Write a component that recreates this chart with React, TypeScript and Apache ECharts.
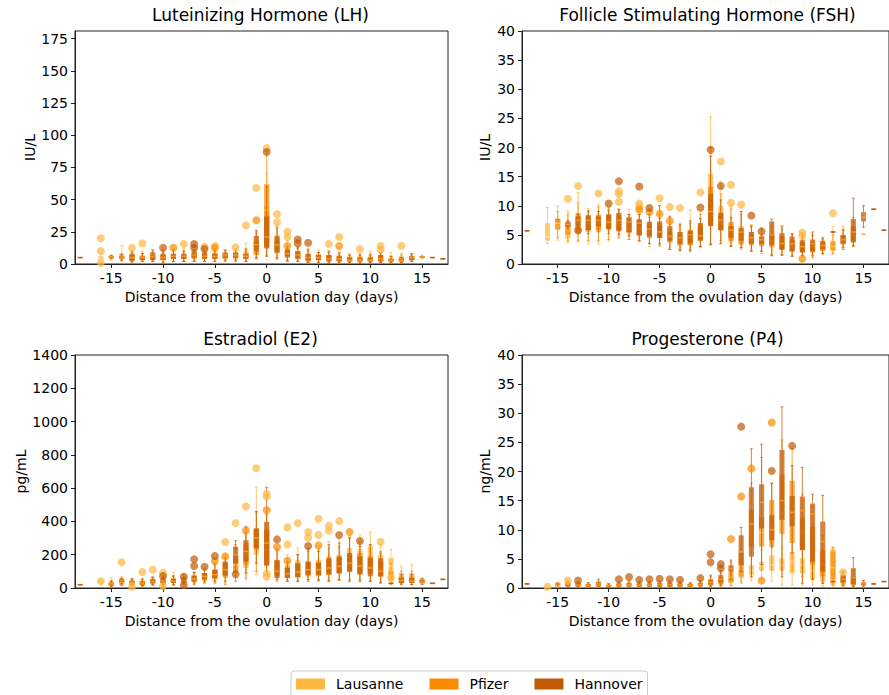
import React, { useEffect, useRef } from "react";
import * as echarts from "echarts";

// ---------- tick labels ----------
const DAY_TICKS = [-15, -10, -5, 0, 5, 10, 15];
const LH_TICKS = [0, 25, 50, 75, 100, 125, 150, 175];
const FSH_TICKS = [0, 5, 10, 15, 20, 25, 30, 35, 40];
const E2_TICKS = [0, 200, 400, 600, 800, 1000, 1200, 1400];
const P4_TICKS = [0, 5, 10, 15, 20, 25, 30, 35, 40];

const SITES = ["Lausanne", "Pfizer", "Hannover"];
const SITE_COLORS = ["#FDB840", "#FB8C00", "#C05A06"];
const MEDIAN_COLORS = ["#FFE2A8", "#FDC46A", "#F29A30"];

// ---------- data: [day, low whisker, Q1, median, Q3, high whisker] ----------
// LH (IU/L)
const lhLausanne = [
  [-16, 1, 3, 4, 6, 8], [-15, 3, 4, 5, 6, 7], [-14, 2, 4, 6, 8, 14], [-13, 1, 3, 5, 7, 10],
  [-12, 2, 4, 6, 7, 10], [-11, 2, 4, 5, 7, 10], [-10, 1, 3, 5, 7, 10], [-9, 2, 4, 6, 8, 11],
  [-8, 2, 4, 6, 8, 12], [-7, 2, 4, 6, 9, 13], [-6, 2, 4, 6, 8, 11], [-5, 2, 4, 6, 9, 12],
  [-4, 2, 4, 6, 8, 11], [-3, 3, 5, 7, 9, 12], [-2, 2, 5, 7, 10, 16], [-1, 4, 8, 12, 18, 25],
  [0, 6, 14, 30, 45, 70], [1, 4, 8, 12, 18, 28], [2, 3, 6, 9, 12, 18], [3, 3, 5, 8, 10, 14],
  [4, 1, 3, 5, 8, 12], [5, 2, 4, 6, 8, 11], [6, 1, 3, 5, 7, 10], [7, 1, 3, 5, 7, 10],
  [8, 1, 2, 4, 6, 8], [9, 1, 2, 4, 6, 8], [10, 1, 2, 4, 6, 10], [11, 1, 3, 5, 7, 9],
  [12, 1, 2, 3, 5, 9], [13, 1, 2, 4, 6, 8], [14, 2, 3, 5, 6, 8], [15, 4, 5, 5.5, 6, 7],
];
const lhPfizer = [
  [-15, 4, 5, 5.5, 6, 6.5], [-14, 3, 4, 5, 6, 8], [-13, 2, 3, 5, 7, 9], [-12, 2, 3, 5, 6, 8],
  [-11, 2, 3, 5, 7, 9], [-10, 1, 3, 5, 7, 9], [-9, 2, 4, 6, 7, 10], [-8, 2, 4, 6, 7, 10],
  [-7, 2, 4, 6, 8, 11], [-6, 2, 4, 6, 8, 10], [-5, 2, 4, 6, 8, 11], [-4, 2, 4, 6, 8, 10],
  [-3, 2, 4, 6, 8, 10], [-2, 2, 4, 6, 8, 12], [-1, 4, 7, 11, 17, 24], [0, 7, 13, 42, 62, 88],
  [1, 5, 9, 14, 20, 28], [2, 3, 6, 8, 11, 12], [3, 2, 4, 6, 9, 12], [4, 1, 3, 5, 7, 10],
  [5, 1, 3, 5, 7, 9], [6, 1, 2, 4, 6, 9], [7, 1, 2, 4, 6, 9], [8, 1, 2, 3, 5, 7],
  [9, 1, 2, 3, 5, 7], [10, 1, 2, 3, 5, 8], [11, 1, 2, 4, 6, 8], [12, 1, 2, 3, 4, 6],
  [13, 1, 2, 3, 5, 7], [14, 2, 3, 4, 6, 7],
];
const lhHannover = [
  [-18, 5, 5, 5, 5, 5], [-15, 4.5, 5, 5.5, 6, 6.5], [-14, 3, 4, 5, 6, 7], [-13, 0, 2, 5, 8, 10],
  [-12, 2, 3, 5, 6, 8], [-11, 2, 3, 6, 9, 11], [-10, 1, 3, 5, 8, 11], [-9, 2, 4, 6, 8, 11],
  [-8, 2, 4, 6, 8, 10], [-7, 2, 5, 7, 10, 11], [-6, 2, 4, 6, 9, 10], [-5, 2, 4, 6, 8, 10],
  [-4, 3, 5, 7, 9, 10.8], [-3, 3, 5, 7, 9, 11], [-2, 2, 4, 6, 8, 11], [-1, 5, 10, 15, 22, 26],
  [0, 6, 12, 21, 37, 60], [1, 4, 9, 15, 22, 30], [2, 2, 5, 8, 11, 14], [3, 2, 4, 7, 10, 13],
  [4, 1, 2, 5, 8, 11], [5, 1, 3, 5, 7, 9], [6, 0.5, 2, 4, 7, 10], [7, 1, 2, 4, 6, 8],
  [8, 1, 2, 3, 5, 7], [9, 0.5, 2, 3, 5, 7], [10, 1, 2, 3, 5, 7], [11, 1, 2, 4, 7, 9],
  [12, 1, 2, 3, 4, 6], [13, 1, 2, 3, 4, 5], [14, 2, 3, 5, 6, 8], [15, 5, 5, 5.5, 6, 6],
  [16, 5, 5, 5, 5, 5], [17, 4, 4, 4, 4, 4],
];
const lhLausanneOut = [
  [-16, 20], [-16, 10], [-16, 1], [-13, 12.5], [-12, 16], [-8, 15.5], [-6, 13.4], [-5, 14],
  [-3, 12.9], [-2, 30], [-1, 59], [0, 90], [1, 38.7], [1, 32.5], [2, 25], [2, 21],
  [6, 15.5], [7, 21], [9, 11.6], [11, 14], [11, 11.3], [13, 14.2],
];
const lhPfizerOut = [[-9, 12.6], [-5, 12.5], [-1, 34], [2, 14], [7, 14]];
const lhHannoverOut = [[-10, 12.6], [-7, 15.5], [-7, 12.6], [-6, 11.6], [0, 87], [3, 19], [3, 16], [4, 16.5]];

// FSH (IU/L)
const fshLausanne = [
  [-16, 3.5, 4, 4.7, 7, 9.7], [-15, 4.1, 5.8, 6.5, 7.5, 10], [-14, 3.7, 4.4, 5.8, 7, 9.1],
  [-13, 3.8, 5.2, 6.5, 8, 12.3], [-12, 3.4, 5.5, 6.5, 8, 9.5], [-11, 3.4, 5.5, 6.8, 8, 10.2],
  [-10, 3.9, 5.8, 7, 8.5, 9.8], [-9, 4.5, 6, 7.2, 8.5, 9.4], [-8, 4.2, 5.5, 6.5, 8, 9.4],
  [-7, 3.8, 5, 6.3, 7.5, 9], [-6, 3, 4.5, 5.8, 7, 8.5], [-5, 3, 4.5, 5.5, 7, 10],
  [-4, 2.8, 3.8, 4.8, 6, 8], [-3, 2.3, 3.2, 4.2, 5.5, 7], [-2, 2.3, 3.2, 4.3, 5.8, 9.3],
  [-1, 2.8, 4.2, 5.5, 7, 9], [0, 3.3, 6.5, 11.8, 15.5, 25.3], [1, 3.5, 5.8, 7.2, 10, 14.2],
  [2, 3, 3.8, 5, 7, 9.5], [3, 2.5, 3.2, 4.8, 6.5, 9], [4, 2.2, 3.2, 4, 5.5, 6.8],
  [5, 1.8, 3, 3.8, 4.8, 6.2], [6, 1.5, 2.8, 3.8, 5, 7], [7, 1.5, 2.5, 3.2, 4.5, 6.5],
  [8, 1.3, 2.2, 3, 4, 5.2], [9, 1.3, 2, 2.8, 3.8, 4.5], [10, 1, 2, 2.8, 3.8, 5],
  [11, 1.6, 2.2, 2.8, 3.5, 4.2], [12, 1.7, 2.3, 3, 4, 6.4], [13, 2.5, 3.3, 4, 5, 6.5],
  [14, 3, 3.8, 4.8, 6, 7.5], [15, 5.1, 5.1, 5.1, 5.1, 5.1],
];
const fshPfizer = [
  [-15, 4.5, 6, 7, 7.8, 9], [-14, 4, 5, 6, 7, 8.5], [-13, 4, 5.3, 7, 8.8, 10.5],
  [-12, 4, 5.8, 7, 8.2, 9.2], [-11, 4, 5.8, 7, 8.5, 9.8], [-10, 4.2, 6, 7, 8.5, 9.6],
  [-9, 4.5, 5.8, 7, 8.2, 9.3], [-8, 4.2, 5.3, 6, 7, 8.5], [-7, 4, 4.8, 6, 7.5, 8.5],
  [-6, 3.5, 4.5, 5.5, 6.8, 8], [-5, 3.2, 4.5, 5.5, 6.5, 7.8], [-4, 2.5, 3.7, 4.5, 5.5, 6.8],
  [-3, 2.5, 3.2, 4, 5, 6.5], [-2, 2.5, 3.2, 4.5, 5.5, 7], [-1, 3, 4, 5, 6.5, 8.5],
  [0, 3.5, 6.7, 9.5, 13.3, 20], [1, 4, 5.8, 7, 8.5, 12], [2, 3.2, 4, 5.5, 7.2, 10],
  [3, 2.8, 3.5, 4.5, 5.8, 8.5], [4, 2.3, 3.3, 4, 5, 6.5], [5, 2.2, 3.2, 4, 4.8, 6],
  [6, 1.6, 3, 4, 5.2, 6.5], [7, 1.6, 2.6, 3.5, 4.8, 6], [8, 1.5, 2.3, 3.2, 4.2, 5],
  [9, 1.5, 2, 2.8, 3.8, 5], [10, 1.2, 2, 3, 3.8, 5], [11, 1.8, 2.3, 3, 3.8, 4.3],
  [12, 1.8, 2.3, 3, 3.8, 5], [13, 2.5, 3.5, 4, 4.8, 6], [14, 3, 4, 5, 6.5, 8],
];
const fshHannover = [
  [-18, 5.7, 5.7, 5.7, 5.7, 5.7], [-15, 7.4, 7.4, 7.5, 7.6, 7.6], [-14, 6, 6.4, 6.8, 7.3, 7.5],
  [-13, 6, 6.5, 7.5, 8.2, 8.5], [-12, 5.2, 5.8, 7.5, 8.4, 9], [-11, 5.5, 6.5, 7.5, 8.2, 9],
  [-10, 5.2, 6, 7.2, 8.5, 9.2], [-9, 5, 5.6, 7.5, 8.8, 9.4], [-8, 4.8, 5.5, 7.2, 8, 8.5],
  [-7, 4, 5, 7, 7.7, 8.5], [-6, 3.5, 4.8, 6, 7.3, 8.5], [-5, 3.5, 4.5, 5.5, 7.3, 10],
  [-4, 2.5, 4, 4.8, 6.5, 8.2], [-3, 2.3, 3.5, 4.5, 5.5, 6.8], [-2, 2.2, 3.5, 5, 5.8, 7.4],
  [-1, 3, 4, 4.8, 7, 7.8], [0, 3.3, 6.5, 9, 12.1, 18.5], [1, 3.5, 5.8, 7.5, 8.8, 11],
  [2, 3, 4.5, 5.8, 6.5, 8], [3, 2.8, 4, 5.5, 6.2, 9], [4, 2.2, 3.5, 4.5, 5.5, 6.5],
  [5, 2.2, 3.5, 4.2, 4.6, 5], [6, 1.4, 3.3, 5, 7.3, 7.7], [7, 1.5, 2.4, 3.5, 5.3, 6.5],
  [8, 1.3, 2.1, 3.5, 4.7, 5.2], [9, 1.5, 2, 3, 4.1, 5.3], [10, 1.5, 2.2, 3.5, 4.2, 5.5],
  [11, 1.8, 2.5, 3.2, 4, 4.5], [12, 5.5, 5.5, 5.5, 5.5, 5.5], [13, 2.8, 3.5, 4.2, 5, 5.8],
  [14, 3.2, 3.7, 5.5, 7.7, 11.3], [15, 6.3, 7.3, 8, 8.9, 10], [16, 9.4, 9.4, 9.4, 9.4, 9.4],
  [17, 5.8, 5.8, 5.8, 5.8, 5.8],
];
const fshLausanneOut = [
  [-14, 11.2], [-13, 13.4], [-11, 12.1], [-9, 12.5], [-9, 12], [-9, 10.7], [-7, 10.4], [-7, 9.8],
  [-5, 11.3], [-4, 9.8], [-3, 9.6], [-1, 12.3], [1, 17.6], [2, 13.6], [2, 10.5], [3, 10.2],
  [9, 5.4], [9, 4.8], [12, 8.7],
];
const fshPfizerOut = [[-7, 9.3], [-6, 8.9], [-5, 8.6], [-4, 7.4], [9, 0.9]];
const fshHannoverOut = [[-13, 5.8], [-10, 10.4], [-9, 14.2], [-7, 13.3], [-6, 9.6], [-1, 9.7], [0, 19.6], [1, 13.4], [4, 8.3], [5, 5.6]];

// E2 (pg/mL)
const e2Lausanne = [
  [-16, 25, 30, 35, 45, 55], [-15, 10, 20, 28, 38, 64], [-14, 15, 22, 35, 55, 70],
  [-13, 20, 22, 30, 45, 60], [-12, 10, 20, 30, 45, 60], [-11, 15, 25, 35, 50, 65],
  [-10, 15, 20, 35, 55, 75], [-9, 15, 30, 40, 60, 94], [-8, 20, 35, 50, 65, 85],
  [-7, 20, 40, 55, 75, 95], [-6, 25, 45, 65, 90, 120], [-5, 25, 50, 75, 110, 140],
  [-4, 30, 60, 95, 150, 200], [-3, 40, 90, 120, 170, 240], [-2, 50, 120, 180, 250, 330],
  [-1, 80, 200, 280, 360, 605], [0, 100, 160, 250, 350, 480], [1, 60, 80, 120, 170, 240],
  [2, 50, 70, 100, 140, 200], [3, 40, 70, 110, 170, 240], [4, 40, 75, 110, 160, 230],
  [5, 40, 80, 120, 170, 250], [6, 45, 90, 130, 190, 280], [7, 50, 90, 140, 200, 290],
  [8, 50, 100, 160, 240, 310], [9, 40, 90, 150, 230, 320], [10, 40, 100, 170, 250, 336],
  [11, 40, 80, 130, 200, 260], [12, 70, 80, 130, 182, 232], [13, 20, 30, 50, 90, 128],
  [14, 20, 30, 50, 90, 142], [15, 25, 30, 40, 55, 60],
];
const e2Pfizer = [
  [-15, 10, 15, 25, 35, 45], [-14, 15, 20, 30, 45, 55], [-13, 10, 18, 28, 40, 50],
  [-12, 10, 18, 28, 40, 55], [-11, 15, 25, 35, 50, 65], [-10, 10, 22, 35, 50, 70],
  [-9, 20, 30, 40, 55, 75], [-8, 20, 30, 45, 60, 80], [-7, 20, 35, 50, 70, 90],
  [-6, 30, 45, 65, 90, 115], [-5, 30, 55, 80, 110, 150], [-4, 20, 70, 110, 150, 180],
  [-3, 40, 90, 140, 200, 260], [-2, 60, 140, 200, 270, 330], [-1, 100, 230, 300, 350, 450],
  [0, 80, 130, 230, 350, 440], [1, 40, 70, 110, 160, 230], [2, 40, 60, 90, 130, 150],
  [3, 40, 65, 100, 140, 200], [4, 40, 70, 110, 150, 220], [5, 45, 75, 110, 160, 230],
  [6, 45, 80, 120, 170, 240], [7, 45, 85, 130, 180, 250], [8, 50, 95, 140, 200, 300],
  [9, 50, 90, 140, 210, 280], [10, 40, 85, 130, 190, 260], [11, 30, 70, 110, 160, 220],
  [12, 20, 40, 60, 100, 150], [13, 20, 30, 45, 70, 100], [14, 20, 30, 45, 70, 100],
];
const e2Hannover = [
  [-18, 20, 20, 20, 20, 20], [-15, 10, 15, 25, 30, 40], [-14, 25, 35, 45, 55, 60],
  [-13, 20, 28, 35, 45, 55], [-12, 15, 20, 30, 40, 50], [-11, 20, 30, 40, 55, 65],
  [-10, 20, 30, 45, 60, 65], [-9, 20, 30, 40, 55, 70], [-8, 25, 35, 45, 55, 62],
  [-7, 30, 40, 55, 75, 95], [-6, 40, 55, 70, 90, 110], [-5, 40, 60, 80, 110, 140],
  [-4, 40, 75, 110, 160, 180], [-3, 100, 148, 200, 248, 284], [-2, 90, 158, 220, 288, 368],
  [-1, 150, 240, 300, 358, 460], [0, 80, 138, 270, 398, 605], [1, 50, 60, 100, 168, 230],
  [2, 40, 60, 85, 120, 160], [3, 40, 65, 95, 150, 200], [4, 50, 80, 110, 160, 240],
  [5, 50, 75, 110, 150, 220], [6, 40, 80, 120, 180, 260], [7, 50, 90, 130, 190, 270],
  [8, 40, 100, 150, 210, 300], [9, 40, 80, 130, 190, 250], [10, 40, 70, 120, 180, 260],
  [11, 30, 68, 100, 178, 210], [12, 28, 28, 28, 28, 28], [13, 25, 30, 45, 60, 80],
  [14, 20, 30, 40, 60, 80], [15, 20, 28, 35, 50, 58], [16, 28, 28, 28, 28, 28],
  [17, 52, 52, 52, 52, 52],
];
const e2LausanneOut = [
  [-16, 40], [-14, 154], [-13, 8], [-12, 96], [-11, 110], [-10, 92], [-10, 10], [-4, 276],
  [-3, 390], [-2, 490], [-1, 720], [0, 565], [0, 549], [0, 88], [0, 68], [2, 364], [2, 262],
  [3, 390], [4, 336], [4, 302], [5, 416], [5, 318], [6, 374], [6, 346], [7, 402], [11, 278],
  [12, 64],
];
const e2PfizerOut = [[-5, 162], [-4, 190], [-2, 346], [0, 467], [1, 248], [2, 164], [5, 256], [8, 336]];
const e2HannoverOut = [[-10, 72], [-8, 68], [-8, 18], [-7, 172], [-7, 132], [-6, 128], [-5, 192], [-3, 82], [1, 292], [4, 252], [7, 318], [9, 282]];

// P4 (ng/mL)
const p4Lausanne = [
  [-16, 0.1, 0.2, 0.2, 0.3, 0.4], [-15, 0.2, 0.3, 0.4, 0.6, 0.8], [-14, 0.2, 0.4, 0.6, 0.9, 1.2],
  [-13, 0.2, 0.4, 0.6, 0.8, 1.1], [-12, 0.2, 0.3, 0.5, 0.7, 0.9], [-11, 0.2, 0.3, 0.5, 0.7, 1],
  [-10, 0.1, 0.2, 0.4, 0.6, 0.8], [-9, 0.2, 0.3, 0.5, 0.7, 1], [-8, 0.2, 0.3, 0.5, 0.7, 1],
  [-7, 0.2, 0.3, 0.5, 0.7, 1], [-6, 0.2, 0.3, 0.5, 0.7, 1], [-5, 0.2, 0.3, 0.5, 0.7, 1],
  [-4, 0.2, 0.3, 0.5, 0.7, 1], [-3, 0.2, 0.3, 0.5, 0.7, 0.9], [-2, 0.2, 0.3, 0.4, 0.6, 0.8],
  [-1, 0.2, 0.3, 0.5, 0.8, 1.1], [0, 0.3, 0.5, 0.8, 1.2, 1.8], [1, 0.3, 0.6, 1, 1.5, 2.2],
  [2, 0.4, 0.8, 1.2, 2, 3], [3, 0.8, 1.7, 2.3, 3.1, 4], [4, 1.2, 2.2, 3, 3.9, 5.5],
  [5, 1.5, 3.1, 3.8, 4.5, 6.5], [6, 1.2, 3.1, 4, 5.6, 8], [7, 0.5, 3.1, 4, 5.1, 7],
  [8, 0.5, 2.5, 4.5, 6.2, 9], [9, 0.5, 2.5, 4, 5.1, 8], [10, 0.5, 1.5, 3, 4.5, 7],
  [11, 0.3, 1, 2.5, 4.8, 6.5], [12, 0.2, 0.5, 5.3, 6.8, 7], [13, 0.2, 0.5, 1.2, 1.8, 2.5],
  [14, 0.2, 0.4, 1, 2, 3], [15, 0.2, 0.4, 0.6, 0.8, 1.2],
];
const p4Pfizer = [
  [-15, 0.1, 0.2, 0.4, 0.6, 0.8], [-14, 0.1, 0.2, 0.4, 0.6, 0.9], [-13, 0.1, 0.2, 0.4, 0.6, 0.8],
  [-12, 0.1, 0.2, 0.3, 0.5, 0.7], [-11, 0.1, 0.2, 0.4, 0.6, 0.8], [-10, 0.1, 0.2, 0.3, 0.5, 0.7],
  [-9, 0.1, 0.2, 0.4, 0.6, 0.8], [-8, 0.1, 0.2, 0.4, 0.6, 0.8], [-7, 0.1, 0.2, 0.4, 0.6, 0.8],
  [-6, 0.1, 0.2, 0.4, 0.6, 0.8], [-5, 0.1, 0.2, 0.4, 0.6, 0.8], [-4, 0.1, 0.2, 0.4, 0.6, 0.8],
  [-3, 0.1, 0.2, 0.4, 0.6, 0.8], [-2, 0.1, 0.2, 0.4, 0.6, 0.8], [-1, 0.1, 0.3, 0.5, 0.7, 1],
  [0, 0.2, 0.4, 0.8, 1.3, 2], [1, 0.3, 0.6, 1, 1.7, 2.6], [2, 0.4, 1, 1.8, 2.8, 4.5],
  [3, 1, 2, 4, 6, 9], [4, 2, 7.1, 9.5, 13.4, 18], [5, 3, 7.1, 9.5, 12.2, 22.4],
  [6, 3, 7.1, 10.5, 15.1, 18], [7, 3, 9.3, 12.8, 19.4, 25.4], [8, 3, 7.7, 12.8, 18.4, 24],
  [9, 2, 6.5, 9.5, 12, 16], [10, 1.5, 4, 9.5, 10.5, 14], [11, 0.8, 2, 4, 6.5, 9],
  [12, 0.5, 1.5, 3.5, 6.3, 7], [13, 0.3, 0.8, 1.5, 2.2, 2.8], [14, 0.3, 0.6, 1.2, 2, 3],
];
const p4Hannover = [
  [-18, 0.7, 0.7, 0.7, 0.7, 0.7], [-15, 0.5, 0.6, 0.7, 0.8, 0.9], [-14, 0.2, 0.4, 0.7, 1, 1.3],
  [-13, 0.2, 0.4, 0.6, 0.9, 1.1], [-12, 0.2, 0.3, 0.5, 0.7, 0.9], [-11, 0.2, 0.4, 0.7, 1.1, 1.5],
  [-10, 0.1, 0.2, 0.4, 0.5, 0.7], [-9, 0.2, 0.3, 0.5, 0.8, 1.1], [-8, 0.2, 0.4, 0.6, 0.9, 1.2],
  [-7, 0.2, 0.3, 0.5, 0.8, 1.1], [-6, 0.2, 0.3, 0.5, 0.8, 1.1], [-5, 0.2, 0.3, 0.6, 0.9, 1.2],
  [-4, 0.2, 0.3, 0.6, 0.9, 1.2], [-3, 0.2, 0.3, 0.5, 0.8, 1.1], [-2, 0.2, 0.3, 0.5, 0.7, 0.9],
  [-1, 0.2, 0.4, 0.6, 0.9, 1.3], [0, 0.3, 0.6, 1, 1.5, 2.2], [1, 0.5, 0.9, 1.5, 2.2, 3],
  [2, 1.5, 2.8, 3.3, 3.9, 4.8], [3, 2.8, 3.9, 6.2, 9, 10.4], [4, 1.9, 5.4, 11, 17.3, 23.9],
  [5, 4, 10.2, 14.7, 17.8, 24.7], [6, 7, 8.2, 10, 12.5, 18], [7, 1.9, 11.7, 15, 23.7, 31.1],
  [8, 6, 10.6, 13, 15.8, 21], [9, 0.8, 6.5, 13.3, 15.7, 20.7], [10, 1.5, 4.5, 12.7, 14.5, 16.1],
  [11, 0.8, 2.8, 8, 11.4, 15.9], [12, 1.1, 1.1, 1.1, 1.1, 1.1], [13, 0.5, 1, 1.5, 2.2, 2.8],
  [14, 0.3, 0.6, 1.8, 3.4, 5.2], [15, 0.3, 0.5, 0.8, 1, 1.3], [16, 0.7, 0.7, 0.7, 0.7, 0.7],
  [17, 1.1, 1.1, 1.1, 1.1, 1.1],
];
const p4LausanneOut = [[-16, 0.2], [-14, 1.3], [13, 2.7]];
const p4PfizerOut = [[2, 8.4], [3, 15.7], [4, 20.5], [5, 1.3], [6, 28.4]];
const p4HannoverOut = [
  [-13, 1.3], [-9, 1.5], [-8, 1.9], [-7, 1.4], [-6, 1.5], [-5, 1.6], [-4, 1.5], [-3, 1.4],
  [-1, 1.7], [0, 5.8], [0, 4.4], [1, 4.1], [1, 3.4], [3, 27.7], [6, 20.1], [8, 24.4],
];

const PANELS = [
  { title: "Luteinizing Hormone (LH)", unit: "IU/L", yMax: 181, ticks: LH_TICKS, left: 75, top: 31, nameGap: 38,
    boxes: [lhLausanne, lhPfizer, lhHannover], outs: [lhLausanneOut, lhPfizerOut, lhHannoverOut] },
  { title: "Follicle Stimulating Hormone (FSH)", unit: "IU/L", yMax: 40, ticks: FSH_TICKS, left: 522, top: 31, nameGap: 30,
    boxes: [fshLausanne, fshPfizer, fshHannover], outs: [fshLausanneOut, fshPfizerOut, fshHannoverOut] },
  { title: "Estradiol (E2)", unit: "pg/mL", yMax: 1400, ticks: E2_TICKS, left: 75, top: 355, nameGap: 38,
    boxes: [e2Lausanne, e2Pfizer, e2Hannover], outs: [e2LausanneOut, e2PfizerOut, e2HannoverOut] },
  { title: "Progesterone (P4)", unit: "ng/mL", yMax: 40, ticks: P4_TICKS, left: 522, top: 355, nameGap: 30,
    boxes: [p4Lausanne, p4Pfizer, p4Hannover], outs: [p4LausanneOut, p4PfizerOut, p4HannoverOut] },
];

const FONT = "DejaVu Sans";
const GRID_W = 373;
const GRID_H = 233;

function makeRenderer(color: string, median: string) {
  return (params: any, api: any) => {
    const d = api.value(0);
    const pLo = api.coord([d, api.value(1)]);
    const yQ1 = api.coord([d, api.value(2)])[1];
    const yMd = api.coord([d, api.value(3)])[1];
    const yQ3 = api.coord([d, api.value(4)])[1];
    const yHi = api.coord([d, api.value(5)])[1];
    const cx = pLo[0];
    const bw = api.size([0.5, 0])[0];
    const cw = bw * 0.55;
    const ls = { stroke: color, lineWidth: 1, opacity: 0.75 };
    const degenerate = Math.abs(yQ1 - yQ3) < 0.5;
    return {
      type: "group",
      children: [
        { type: "line", shape: { x1: cx, y1: pLo[1], x2: cx, y2: yQ1 }, style: ls },
        { type: "line", shape: { x1: cx, y1: yQ3, x2: cx, y2: yHi }, style: ls },
        { type: "line", shape: { x1: cx - cw / 2, y1: pLo[1], x2: cx + cw / 2, y2: pLo[1] }, style: ls },
        { type: "line", shape: { x1: cx - cw / 2, y1: yHi, x2: cx + cw / 2, y2: yHi }, style: ls },
        { type: "rect", shape: { x: cx - bw / 2, y: yQ3, width: bw, height: yQ1 - yQ3 }, style: { fill: color, opacity: 0.75 } },
        { type: "line", shape: { x1: cx - bw / 2, y1: yMd, x2: cx + bw / 2, y2: yMd },
          style: { stroke: degenerate ? color : median, lineWidth: 1.6, opacity: 0.9 } },
      ],
    };
  };
}

export default function App() {
  const ref = useRef<HTMLDivElement>(null);
  useEffect(() => {
    if (!ref.current) return;
    const chart = echarts.init(ref.current, undefined, { renderer: "svg" });
    const grid: any[] = [];
    const xAxis: any[] = [];
    const yAxis: any[] = [];
    const title: any[] = [];
    const series: any[] = [];
    const plain = (v: number) => String(v);
    PANELS.forEach((p, i) => {
      grid.push({ left: p.left, top: p.top, width: GRID_W, height: GRID_H, show: true, borderColor: "#222", borderWidth: 1 });
      title.push({
        text: p.title, left: p.left + GRID_W / 2 - 1, top: p.top - 25, textAlign: "center", padding: 0,
        textStyle: { fontFamily: FONT, fontSize: 17, fontWeight: "normal", color: "#000" },
      });
      xAxis.push({
        type: "value", gridIndex: i, min: -18.5, max: 17.5,
        name: "Distance from the ovulation day (days)", nameLocation: "middle", nameGap: 26,
        nameTextStyle: { fontFamily: FONT, fontSize: 14, color: "#000" },
        axisLine: { show: true, onZero: false, lineStyle: { color: "#222" } },
        axisTick: { show: true, length: 4, lineStyle: { color: "#222" }, customValues: DAY_TICKS },
        axisLabel: { fontFamily: FONT, fontSize: 14, color: "#000", margin: 7, customValues: DAY_TICKS, formatter: plain },
        splitLine: { show: false },
      });
      yAxis.push({
        type: "value", gridIndex: i, min: 0, max: p.yMax,
        name: p.unit, nameLocation: "middle", nameGap: p.nameGap,
        nameTextStyle: { fontFamily: FONT, fontSize: 14, color: "#000" },
        axisLine: { show: true, onZero: false, lineStyle: { color: "#222" } },
        axisTick: { show: true, length: 4, lineStyle: { color: "#222" }, customValues: p.ticks },
        axisLabel: { fontFamily: FONT, fontSize: 14, color: "#000", margin: 7, customValues: p.ticks, formatter: plain },
        splitLine: { show: false },
      });
      SITES.forEach((s, j) => {
        series.push({
          type: "custom", name: s, xAxisIndex: i, yAxisIndex: i, clip: true,
          itemStyle: { color: SITE_COLORS[j] },
          renderItem: makeRenderer(SITE_COLORS[j], MEDIAN_COLORS[j]),
          encode: { x: 0, y: [1, 2, 3, 4, 5] },
          data: p.boxes[j],
        });
        series.push({
          type: "scatter", name: s, xAxisIndex: i, yAxisIndex: i, symbol: "circle", symbolSize: 8,
          itemStyle: { color: SITE_COLORS[j], opacity: 0.7 },
          data: p.outs[j],
        });
      });
    });
    chart.setOption({
      animation: false,
      backgroundColor: "#fff",
      title, grid, xAxis, yAxis, series,
      legend: {
        left: 291, top: 671, orient: "horizontal", icon: "rect", itemWidth: 29, itemHeight: 11, itemGap: 26,
        padding: [6, 5, 8, 5], borderColor: "#ccc", borderWidth: 1, borderRadius: 3, selectedMode: false,
        textStyle: { fontFamily: FONT, fontSize: 14, color: "#000", padding: [0, 0, 0, 6] },
        data: SITES.map((s, j) => ({ name: s, itemStyle: { color: SITE_COLORS[j], opacity: 1 } })),
      },
    });
    return () => chart.dispose();
  }, []);
  return (
    <div
      ref={ref}
      style={{ position: "absolute", left: 0, top: 0, width: 889, height: 695, background: "#fff" }}
    />
  );
}
